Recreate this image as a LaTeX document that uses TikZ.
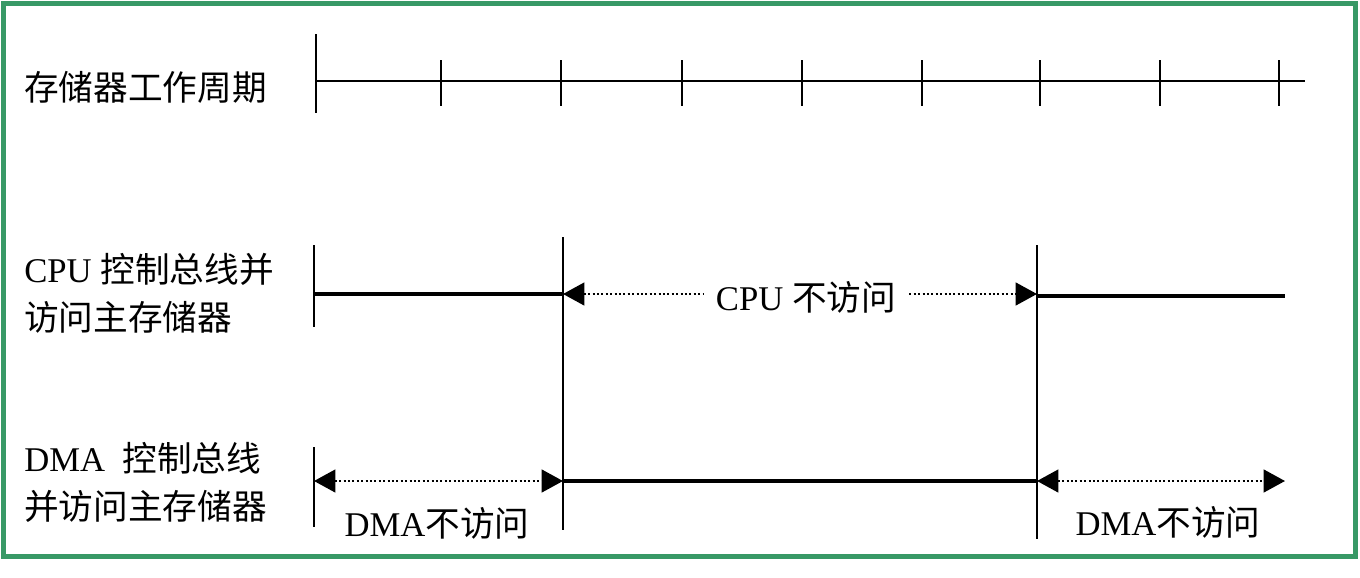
\documentclass[tikz,border=0pt]{standalone}
\usepackage{fontspec}
\setmainfont{Liberation Serif}
\newfontfamily\cjk{Noto Sans CJK SC}
\usetikzlibrary{arrows.meta}
\definecolor{frm}{RGB}{56,153,102}
\tikzset{px/.style={
  x=0.75pt,
  y=-0.75pt
}}
\tikzset{thn/.style={line width=1.5pt}}
\tikzset{bus/.style={line width=3pt}}
\tikzset{idl/.style={
  line width=1.8pt,
  dash pattern=on 1.5pt off 1.8pt,
  {Triangle[length=16pt,width=17pt]}-{Triangle[length=16pt,width=17pt]},
}}
\tikzset{txt/.style={
  inner sep=0pt,
  font=\fontsize{26}{36}\selectfont,
}}
\tikzset{lbl/.style={txt,anchor=west,align=left}}

\begin{document}
\begin{tikzpicture}[px]
    \useasboundingbox (0,0) rectangle (1360,578);
    \draw[frm,line width=3.75pt] (3,3) rectangle (1355.5,556.5);
    % Memory cycles
    \node[lbl] (mem) at (24,87) {\cjk 存储器工作周期};
    \coordinate (m0) at (316,81);
    \coordinate (m1) at (1305,81);
    \draw[thn] (m0) -- (m1);
    \draw[thn] (316,34) -- (316,113);
    \foreach \x in {441,561,682,802,922,1040,1160,1279}
      \draw[thn] (\x,60) -- (\x,106);
    % CPU
    \node[lbl] (cpu) at (24,293) {CPU {\cjk 控制总线并}\\{\cjk 访问主存储器}};
    \coordinate (c0) at (314,294);
    \coordinate (c1) at (563,294);
    \coordinate (c2) at (1037,296);
    \coordinate (c3) at (1285,296);
    \draw[thn] (314,245) -- (314,327);
    \draw[thn] (563,237) -- (563,530);
    \draw[thn] (1037,245) -- (1037,539);
    \draw[bus] (c0) -- (c1);
    \draw[bus] (c2) -- (c3);
    \draw[idl] (c1) -- (c2 |- c1);
    \node[txt,fill=white,inner xsep=9pt] (cpuidle) at (806,297) {CPU {\cjk 不访问}};
    % DMA
    \node[lbl] (dma) at (24,482) {DMA\ \ {\cjk 控制总线}\\{\cjk 并访问主存储器}};
    \coordinate (d0) at (314,481);
    \coordinate (d1) at (563,481);
    \coordinate (d2) at (1037,481);
    \coordinate (d3) at (1285,481);
    \draw[thn] (314,447) -- (314,527);
    \draw[idl] (d0) -- (d1);
    \draw[bus] (d1) -- (d2);
    \draw[idl] (d2) -- (d3);
    \node[txt] (dmaidle1) at (437,523) {DMA{\cjk 不访问}};
    \node[txt] (dmaidle2) at (1168,522) {DMA{\cjk 不访问}};
\end{tikzpicture}
\end{document}
